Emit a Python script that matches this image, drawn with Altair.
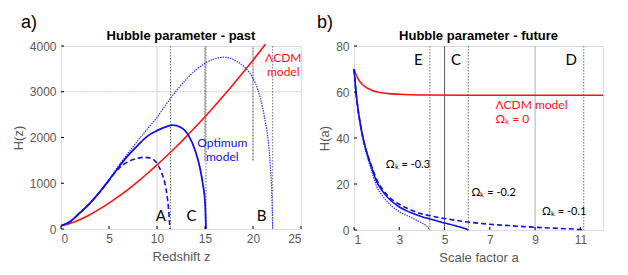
import altair as alt
import pandas as pd

# ---------------- Panel a: Hubble parameter - past ----------------
z_lcdm = [0, 1, 2, 3, 4, 5, 6, 7, 8, 9, 10, 11, 12, 13, 14, 15, 16, 17, 18, 19, 20, 21, 21.3]
H_lcdm = [70, 125, 208, 311, 433, 567, 712, 867, 1036, 1213, 1400, 1595, 1798, 2009, 2228, 2454, 2688, 2928, 3176, 3430, 3690, 3957, 4038]

z_opt = [0, 1, 2, 3, 4, 5, 6, 7, 8, 9, 10, 11, 11.6, 12.5, 13.3, 14, 14.5, 14.8, 15.0, 15.1]
H_opt = [70, 170, 360, 560, 800, 1070, 1350, 1610, 1830, 2030, 2150, 2240, 2270, 2220, 2040, 1700, 1310, 950, 600, 0]

z_A = [0, 1, 2, 3, 4, 5, 5.5, 6, 7, 8, 8.6, 9.3, 10, 10.5, 10.8, 11.05, 11.2, 11.35]
H_A = [70, 170, 360, 560, 800, 1060, 1200, 1320, 1470, 1545, 1567, 1550, 1430, 1220, 1020, 730, 450, 0]

z_B = [0, 1, 2, 3, 4, 5, 6, 7, 8, 9, 10, 11, 12, 13, 14, 15, 16, 17, 18, 19, 20, 20.5, 21, 21.3, 21.6, 21.8, 21.95, 22.05]
H_B = [70, 170, 360, 560, 800, 1070, 1380, 1660, 1930, 2190, 2440, 2740, 3020, 3260, 3470, 3620, 3720, 3755, 3700, 3560, 3290, 3050, 2650, 2330, 1900, 1400, 800, 0]

a_xticks = [0, 5, 10, 15, 20, 25]
a_yticks = [0, 1000, 2000, 3000, 4000]

a_light_v = [10]
a_light_h = [3000]
a_grey_upper = [15, 20]
a_dotted_v = [11.4, 15.1, 22.05]

a_letters = ["A", "C", "B"]
a_letter_z = [10.4, 13.6, 20.9]
a_letter_H = [280, 280, 280]

a_red_text = ["ΛCDM", "model"]
a_red_z = [23.15, 23.15]
a_red_H = [3745, 3440]

a_blue_text = ["Optimum", "model"]
a_blue_z = [16.8, 16.8]
a_blue_H = [1872, 1570]

# ---------------- Panel b: Hubble parameter - future ----------------
a_lcdm = [1.0, 1.1, 1.2, 1.3, 1.5, 1.75, 2.0, 2.5, 3.0, 4.0, 6.0, 9.0, 12.0]
Ha_lcdm = [70, 67.3, 65.4, 64.0, 62.2, 60.9, 60.1, 59.3, 59.0, 58.7, 58.6, 58.6, 58.6]

a_m02 = [1.0, 1.1, 1.2, 1.3, 1.4, 1.5, 1.75, 2.0, 2.25, 2.5, 3.0, 3.5, 4.0, 4.35, 5.0, 5.5, 5.9, 6.05]
Ha_m02 = [70, 59, 51, 45, 40, 36, 28, 21, 17, 14, 10, 7.6, 5.8, 4.8, 3.0, 1.8, 0.6, 0]

a_m01 = [1.0, 1.1, 1.2, 1.3, 1.4, 1.5, 1.75, 2.0, 2.25, 2.5, 3.0, 3.5, 4.0, 4.35, 5.0, 6.0, 7.0, 8.0, 9.0, 10.0, 11.0, 11.15]
Ha_m01 = [70, 59, 51, 45, 40, 36, 28.5, 22, 17.8, 14.8, 11.2, 8.8, 7.0, 6.2, 5.0, 3.5, 2.5, 1.8, 1.2, 0.7, 0.2, 0]

a_m03 = [1.0, 1.1, 1.2, 1.3, 1.4, 1.5, 1.75, 2.0, 2.25, 2.5, 3.0, 3.5, 4.0, 4.2, 4.35]
Ha_m03 = [70, 58, 50, 44, 39, 35, 26.5, 19, 15, 12, 8, 5.5, 3, 1.8, 0]

b_xticks = [1, 3, 5, 7, 9, 11]
b_yticks = [0, 20, 40, 60, 80]

b_dotted_v = [4.35, 6.05, 11.15]
b_solid_v = [5.0]
b_light_v = [9.0]

b_letters = ["E", "C", "D"]
b_letter_a = [3.84, 5.51, 10.6]
b_letter_H = [73.9, 73.9, 73.9]

b_red_text = ["ΛCDM model", "Ωₖ = 0"]
b_red_a = [7.25, 7.25]
b_red_H = [54.4, 48.4]

b_om_text = ["Ωₖ = -0.3", "Ωₖ = -0.2", "Ωₖ = -0.1"]
b_om_a = [2.4, 6.19, 9.31]
b_om_H = [28.1, 16.0, 7.7]

panel_titles = ["Hubble parameter - past", "Hubble parameter - future"]
panel_tags = ["a)", "b)"]

# ---------------- styling ----------------
TICK_FONT = "Liberation Sans"
ANN_FONT = "Lato"
GREY = "#595959"
BLUE = "#1010e8"
LIGHTBLUE = "#3535ff"
RED = "#ff1010"

W_A, H_A_PX = 240, 183
W_B, H_B_PX = 249, 184


def line_layer(xs, ys, xname, yname, xs_scale, ys_scale, color, width, dash=None, opacity=1.0):
    df = pd.DataFrame({xname: xs, yname: ys, "order": list(range(len(xs)))})
    kw = dict(color=color, strokeWidth=width, opacity=opacity, interpolate="monotone")
    if dash is not None:
        kw["strokeDash"] = dash
    return alt.Chart(df).mark_line(**kw).encode(
        x=alt.X(f"{xname}:Q", scale=xs_scale),
        y=alt.Y(f"{yname}:Q", scale=ys_scale),
        order="order:Q",
    )


def vrules(vals, xname, xs_scale, color, width, dash=None, y1=None, y2=None, ys_scale=None, yname=None):
    kw = dict(color=color, strokeWidth=width)
    if dash is not None:
        kw["strokeDash"] = dash
    if y1 is None:
        df = pd.DataFrame({xname: vals})
        return alt.Chart(df).mark_rule(**kw).encode(x=alt.X(f"{xname}:Q", scale=xs_scale))
    df = pd.DataFrame({xname: vals, "ylo": [y1] * len(vals), "yhi": [y2] * len(vals)})
    return alt.Chart(df).mark_rule(**kw).encode(
        x=alt.X(f"{xname}:Q", scale=xs_scale),
        y=alt.Y("ylo:Q", scale=ys_scale),
        y2="yhi:Q",
    )


def hrules(vals, yname, ys_scale, color, width, dash=None):
    kw = dict(color=color, strokeWidth=width)
    if dash is not None:
        kw["strokeDash"] = dash
    df = pd.DataFrame({yname: vals})
    return alt.Chart(df).mark_rule(**kw).encode(y=alt.Y(f"{yname}:Q", scale=ys_scale))


def texts(xs, ys, labels, xname, yname, xs_scale, ys_scale, color, size, align="center"):
    df = pd.DataFrame({xname: xs, yname: ys, "label": labels})
    return alt.Chart(df).mark_text(
        color=color, fontSize=size, font=ANN_FONT, align=align, baseline="middle"
    ).encode(
        x=alt.X(f"{xname}:Q", scale=xs_scale),
        y=alt.Y(f"{yname}:Q", scale=ys_scale),
        text="label:N",
    )


def inner_ticks(xvals, yvals, xname, yname, xs_scale, ys_scale, height):
    dx = pd.DataFrame({xname: xvals})
    dy = pd.DataFrame({yname: yvals})
    tx = alt.Chart(dx).mark_rule(color="black", strokeWidth=1).encode(
        x=alt.X(f"{xname}:Q", scale=xs_scale),
        y=alt.value(height),
        y2=alt.value(height - 3),
    )
    ty = alt.Chart(dy).mark_rule(color="black", strokeWidth=1).encode(
        y=alt.Y(f"{yname}:Q", scale=ys_scale),
        x=alt.value(0),
        x2=alt.value(3),
    )
    return tx + ty


def panel_label(txt, xoff):
    df = pd.DataFrame({"t": [txt]})
    return alt.Chart(df).mark_text(
        fontSize=18, font=TICK_FONT, align="left", baseline="middle", color="black"
    ).encode(x=alt.value(xoff), y=alt.value(-23.5), text="t:N")


def panel_title(txt, width):
    df = pd.DataFrame({"t": [txt]})
    return alt.Chart(df).mark_text(
        fontSize=13, font=TICK_FONT, fontWeight="bold", align="center",
        baseline="alphabetic", color="black"
    ).encode(x=alt.value(width / 2), y=alt.value(-6), text="t:N")


def axis(values, title_pad=3, label_pad=4):
    return alt.Axis(values=values, grid=False, ticks=False, domain=False, format="d",
                    labelFont=TICK_FONT, labelFontSize=12, labelColor=GREY, labelPadding=label_pad,
                    titleFont=TICK_FONT, titleFontSize=13, titleColor=GREY,
                    titleFontWeight="normal", titlePadding=title_pad)


# ---- panel a ----
xa = alt.Scale(domain=[0, 25], nice=False, zero=False)
ya = alt.Scale(domain=[0, 4000], nice=False)

base_a = alt.Chart(pd.DataFrame({"z": [0, 25], "H": [0, 4000]})).mark_point(opacity=0).encode(
    x=alt.X("z:Q", scale=xa, title="Redshift z", axis=axis(a_xticks, 6, 4)),
    y=alt.Y("H:Q", scale=ya, title="H(z)", axis=axis(a_yticks, 4, 5)),
)

panel_a = alt.layer(
    base_a,
    vrules(a_light_v, "z", xa, "#d4d4d4", 1),
    hrules(a_light_h, "H", ya, "#c8c8c8", 1, dash=[2, 1]),
    vrules(a_grey_upper, "z", xa, "#a8a8a8", 2, dash=[2, 1], y1=1500, y2=4000, ys_scale=ya, yname="H"),
    vrules(a_dotted_v, "z", xa, "#707070", 1, dash=[1.5, 1.5]),
    line_layer(z_lcdm, H_lcdm, "z", "H", xa, ya, RED, 1.6),
    line_layer(z_B, H_B, "z", "H", xa, ya, LIGHTBLUE, 1.2, dash=[1.5, 1]),
    line_layer(z_opt, H_opt, "z", "H", xa, ya, BLUE, 1.8),
    line_layer(z_A, H_A, "z", "H", xa, ya, BLUE, 1.6, dash=[5, 3]),
    texts(a_letter_z, a_letter_H, a_letters, "z", "H", xa, ya, "black", 15),
    texts(a_red_z, a_red_H, a_red_text, "z", "H", xa, ya, RED, 12),
    texts(a_blue_z, a_blue_H, a_blue_text, "z", "H", xa, ya, BLUE, 12),
    inner_ticks(a_xticks, a_yticks, "z", "H", xa, ya, H_A_PX),
    panel_label(panel_tags[0], -40),
    panel_title(panel_titles[0], W_A),
).properties(width=W_A, height=H_A_PX)

# ---- panel b ----
xb = alt.Scale(domain=[1, 12], nice=False, zero=False)
yb = alt.Scale(domain=[0, 80], nice=False)

base_b = alt.Chart(pd.DataFrame({"a": [1, 12], "Ha": [0, 80]})).mark_point(opacity=0).encode(
    x=alt.X("a:Q", scale=xb, title="Scale factor a", axis=axis(b_xticks, 6, 4)),
    y=alt.Y("Ha:Q", scale=yb, title="H(a)", axis=axis(b_yticks, 4, 5)),
)

panel_b = alt.layer(
    base_b,
    vrules(b_light_v, "a", xb, "#c8c8c8", 1.5),
    vrules(b_solid_v, "a", xb, "#606060", 1),
    vrules(b_dotted_v, "a", xb, "#707070", 1, dash=[1.5, 1.5]),
    line_layer(a_lcdm, Ha_lcdm, "a", "Ha", xb, yb, RED, 1.6),
    line_layer(a_m03, Ha_m03, "a", "Ha", xb, yb, LIGHTBLUE, 1.2, dash=[1.5, 1]),
    line_layer(a_m02, Ha_m02, "a", "Ha", xb, yb, BLUE, 1.6),
    line_layer(a_m01, Ha_m01, "a", "Ha", xb, yb, BLUE, 1.6, dash=[5, 3]),
    texts(b_letter_a, b_letter_H, b_letters, "a", "Ha", xb, yb, "black", 15),
    texts(b_red_a, b_red_H, b_red_text, "a", "Ha", xb, yb, RED, 12, align="left"),
    texts(b_om_a, b_om_H, b_om_text, "a", "Ha", xb, yb, "black", 11, align="left"),
    inner_ticks(b_xticks, b_yticks, "a", "Ha", xb, yb, H_B_PX),
    panel_label(panel_tags[1], -37),
    panel_title(panel_titles[1], W_B),
).properties(width=W_B, height=H_B_PX)

chart = alt.hconcat(panel_a, panel_b, spacing=11).properties(
    padding={"left": 3, "top": 5, "right": 5, "bottom": 5}
).configure_view(stroke="black", strokeWidth=1).configure(background="white")

chart.save("out.html", embed_options={"renderer": "svg", "actions": False})
